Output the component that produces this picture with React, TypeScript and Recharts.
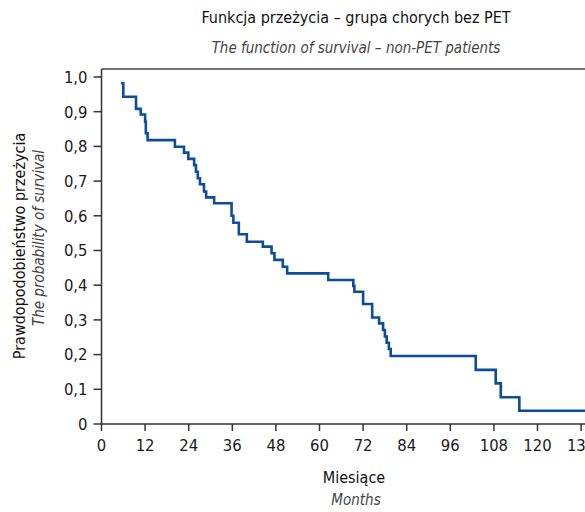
import React from "react";
import {
  LineChart,
  Line,
  XAxis,
  YAxis,
  ReferenceLine,
} from "recharts";

// Kaplan-Meier estimate, non-PET group
const MONTHS = [
  5.4, 6.0, 9.5, 10.8, 12.0, 12.2, 12.7, 20.2, 22.7, 23.9, 25.5, 26.0, 26.5,
  27.1, 28.2, 28.8, 31.0, 35.8, 36.3, 37.8, 40.0, 44.4, 46.8, 47.6, 49.9,
  51.1, 62.4, 69.3, 69.6, 72.0, 74.5, 76.4, 77.5, 78.0, 78.5, 79.1, 79.6,
  103.0, 108.5, 109.9, 115.0, 134.0,
];
const SURVIVAL = [
  0.982, 0.943, 0.908, 0.892, 0.871, 0.838, 0.818, 0.799, 0.782, 0.764,
  0.746, 0.727, 0.708, 0.691, 0.67, 0.653, 0.636, 0.6, 0.58, 0.547, 0.525,
  0.511, 0.492, 0.473, 0.453, 0.434, 0.415, 0.398, 0.381, 0.346, 0.307,
  0.29, 0.271, 0.252, 0.234, 0.216, 0.196, 0.156, 0.117, 0.077, 0.038,
  0.038,
];
const X_TICKS = [0, 12, 24, 36, 48, 60, 72, 84, 96, 108, 120, 132];
const Y_TICKS = [0, 0.1, 0.2, 0.3, 0.4, 0.5, 0.6, 0.7, 0.8, 0.9, 1.0];

const TITLE = "Funkcja przeżycia – grupa chorych bez PET";
const SUBTITLE = "The function of survival – non-PET patients";
const Y_LABEL = "Prawdopodobieństwo przeżycia";
const Y_LABEL_EN = "The probability of survival";
const X_LABEL = "Miesiące";
const X_LABEL_EN = "Months";

const FONT = '"DejaVu Sans Condensed", "Liberation Sans Narrow", "Roboto", sans-serif';
const Y_MAX = 1.023;

const data = MONTHS.map((t, i) => ({ t, s: SURVIVAL[i] }));

function fmtY(v: number) {
  if (v === 0) return "0";
  return v.toFixed(1).replace(".", ",");
}

function Label({
  x,
  y,
  text,
  size,
  italic,
  color,
  rotate,
}: {
  x: number;
  y: number;
  text: string;
  size: number;
  italic?: boolean;
  color: string;
  rotate?: boolean;
}) {
  return (
    <div
      style={{
        position: "absolute",
        left: x,
        top: y,
        transform: `translate(-50%, -50%)${rotate ? " rotate(-90deg)" : ""}`,
        whiteSpace: "nowrap",
        fontFamily: FONT,
        fontSize: size,
        fontStyle: italic ? "italic" : "normal",
        color,
        lineHeight: 1,
      }}
    >
      {text}
    </div>
  );
}

export default function App() {
  return (
    <div
      style={{
        position: "absolute",
        left: 0,
        top: 0,
        width: 585,
        height: 512,
        overflow: "hidden",
        background: "#fff",
      }}
    >
      <LineChart
        width={620}
        height={512}
        data={data}
        margin={{ top: 69, right: 28, bottom: 58, left: 0 }}
      >
        <XAxis
          dataKey="t"
          type="number"
          domain={[0, 135]}
          ticks={X_TICKS}
          interval={0}
          allowDataOverflow
          height={30}
          stroke="#333"
          strokeWidth={1.5}
          tickSize={7}
          tickMargin={8}
          tick={{ fill: "#1a1a1a", fontSize: 16.5, fontFamily: FONT }}
        />
        <YAxis
          type="number"
          domain={[0, Y_MAX]}
          ticks={Y_TICKS}
          interval={0}
          width={101.5}
          stroke="#333"
          strokeWidth={1.5}
          tickSize={8}
          tickMargin={6}
          tickFormatter={fmtY}
          tick={{ fill: "#1a1a1a", fontSize: 16.5, fontFamily: FONT }}
        />
        <ReferenceLine y={Y_MAX} stroke="#444" strokeWidth={1.5} ifOverflow="visible" />
        <Line
          dataKey="s"
          type="stepAfter"
          stroke="#0b4d9c"
          strokeWidth={2.6}
          dot={false}
          activeDot={false}
          isAnimationActive={false}
        />
      </LineChart>
      <Label x={356} y={18} text={TITLE} size={16} color="#111" />
      <Label x={356} y={48} text={SUBTITLE} size={15} italic color="#444" />
      <Label x={20} y={246} text={Y_LABEL} size={16} color="#111" rotate />
      <Label x={39} y={238} text={Y_LABEL_EN} size={15} italic color="#444" rotate />
      <Label x={354} y={478} text={X_LABEL} size={16} color="#111" />
      <Label x={356} y={500} text={X_LABEL_EN} size={15} italic color="#444" />
    </div>
  );
}
